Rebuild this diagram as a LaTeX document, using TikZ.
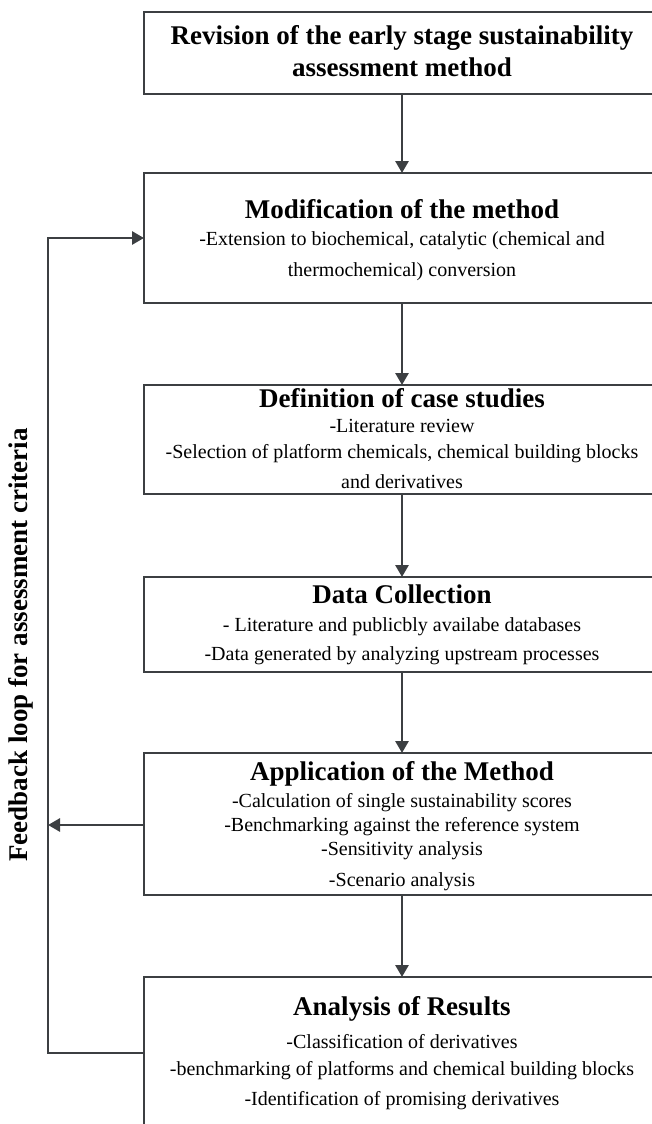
\documentclass[tikz,border=0pt]{standalone}
\usepackage{fontspec}
\setmainfont{Liberation Serif}
\usetikzlibrary{arrows.meta}
\definecolor{linegray}{HTML}{3C3F42}

\begin{document}
\begin{tikzpicture}[x=1pt,y=-1pt,
  stage/.style={draw=linegray, line width=2.8pt, rectangle, minimum width=516pt,
                inner sep=0pt, outer sep=0pt, anchor=north west},
  conn/.style={draw=linegray, line width=2.8pt, -{Triangle[length=12pt,width=13pt]}},
  ttl/.style={font=\fontsize{27}{30}\selectfont\bfseries, anchor=base, inner sep=0pt},
  txt/.style={font=\fontsize{20}{24}\selectfont, anchor=base, inner sep=0pt}]

  \useasboundingbox (0,0) rectangle (652,1124);
  \clip (0,0) rectangle (652,1124);

  % stage boxes (right and last lower edge run past the page)
  \node[stage, minimum height=82pt]  (b1) at (144,12)  {};
  \node[stage, minimum height=130pt] (b2) at (144,173) {};
  \node[stage, minimum height=109pt] (b3) at (144,385) {};
  \node[stage, minimum height=95pt]  (b4) at (144,577) {};
  \node[stage, minimum height=142pt] (b5) at (144,753) {};
  \node[stage, minimum height=190pt] (b6) at (144,977) {};

  % texts
  \node[ttl] (t1a) at (402,45)  {Revision of the early stage sustainability};
  \node[ttl] (t1b) at (402,77)  {assessment method};

  \node[ttl] (t2a) at (402,218) {Modification of the method};
  \node[txt] (t2b) at (402,245) {-Extension to biochemical, catalytic (chemical and};
  \node[txt] (t2c) at (402,276) {thermochemical) conversion};

  \node[ttl] (t3a) at (402,407) {Definition of case studies};
  \node[txt] (t3b) at (402,432) {-Literature review};
  \node[txt] (t3c) at (402,458) {-Selection of platform chemicals, chemical building blocks};
  \node[txt] (t3d) at (402,488) {and derivatives};

  \node[ttl] (t4a) at (402,603) {Data Collection};
  \node[txt] (t4b) at (402,631) {- Literature and publicbly availabe databases};
  \node[txt] (t4c) at (402,660) {-Data generated by analyzing upstream processes};

  \node[ttl] (t5a) at (402,780) {Application of the Method};
  \node[txt] (t5b) at (402,807) {-Calculation of single sustainability scores};
  \node[txt] (t5c) at (402,831) {-Benchmarking against the reference system};
  \node[txt] (t5d) at (402,855) {-Sensitivity analysis};
  \node[txt] (t5e) at (402,886) {-Scenario analysis};

  \node[ttl] (t6a) at (402,1015) {Analysis of Results};
  \node[txt] (t6b) at (402,1048) {-Classification of derivatives};
  \node[txt] (t6c) at (402,1075) {-benchmarking of platforms and chemical building blocks};
  \node[txt] (t6d) at (402,1105) {-Identification of promising derivatives};

  % main flow
  \draw[conn] (b1.south) -- (b2.north);
  \draw[conn] (b2.south) -- (b3.north);
  \draw[conn] (b3.south) -- (b4.north);
  \draw[conn] (b4.south) -- (b5.north);
  \draw[conn] (b5.south) -- (b6.north);

  % feedback loop
  \coordinate (fbBottom) at (48,1053);
  \coordinate (fbMid)    at (48,825);
  \coordinate (fbTop)    at (48,238);
  \draw[conn] (fbBottom -| b6.west) -- (fbBottom) -- (fbTop) -- (fbTop -| b2.west);
  \draw[conn] (fbMid -| b5.west) -- (fbMid);

  \node[font=\fontsize{27}{30}\selectfont\bfseries, rotate=90, inner sep=0pt]
    (fbLabel) at (21,645) {Feedback loop for assessment criteria};
\end{tikzpicture}
\end{document}
